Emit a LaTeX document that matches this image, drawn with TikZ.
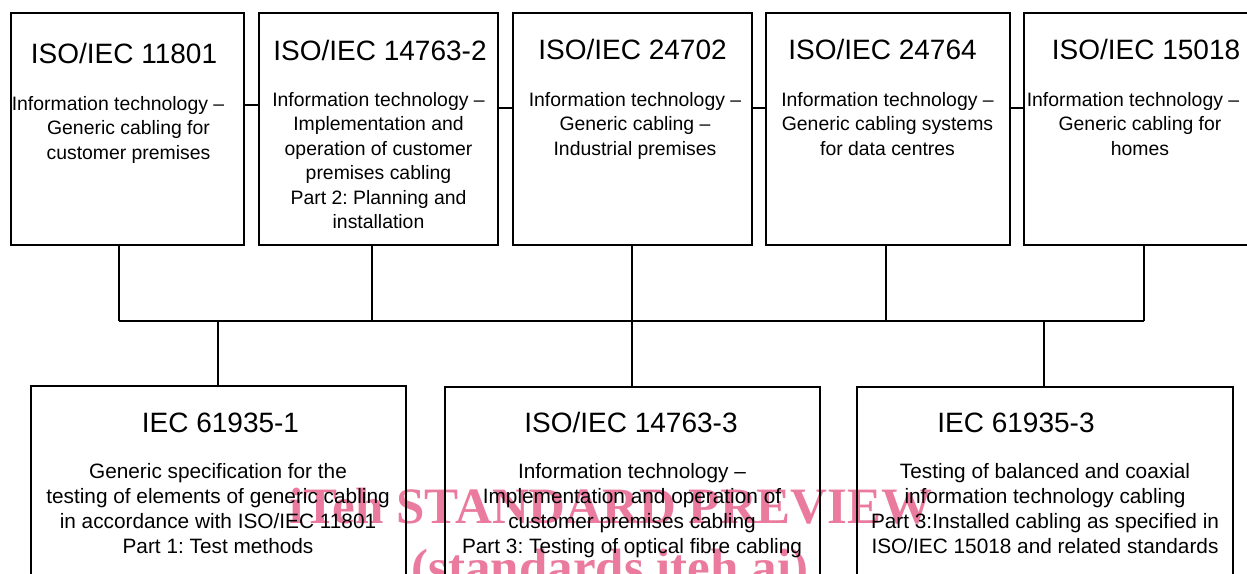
\documentclass[tikz,border=0pt]{standalone}
\usepackage{fontspec}
\setmainfont{Liberation Sans}
\newfontfamily\wmfont{Liberation Serif}
\definecolor{wmpink}{RGB}{234,122,158}
\frenchspacing
\begin{document}
\begin{tikzpicture}[x=0.5pt,y=-0.5pt,
  box/.style={draw,rectangle,line width=1pt,inner sep=0pt,outer sep=0pt,anchor=north west},
  topbox/.style={box,minimum height=116pt},
  botbox/.style={box,minimum height=127pt},
  ttl/.style={inner sep=0pt,anchor=base,font=\fontsize{14pt}{16pt}\selectfont},
  bodyt/.style={inner sep=0pt,anchor=north,align=center,font=\fontsize{9.7pt}{12.25pt}\selectfont\frenchspacing},
  bodyb/.style={inner sep=0pt,anchor=north,align=center,font=\fontsize{10.4pt}{12.5pt}\selectfont\frenchspacing},
  wire/.style={line width=0.9pt},
  wm/.style={inner sep=0pt,anchor=base,text=wmpink,font=\wmfont\bfseries\fontsize{25.5pt}{30pt}\selectfont}]
\useasboundingbox (0,0) rectangle (1247,573);
\clip (0,0) rectangle (1247,573);

% watermark
\node[wm] (w1) at (611,523) {iTeh STANDARD PREVIEW};
\node[wm] (w2) at (610,584) {(standards.iteh.ai)};

% top boxes
\node[topbox,minimum width=116.5pt] (b1) at (11,13) {};
\node[topbox,minimum width=119.5pt] (b2) at (259,13) {};
\node[topbox,minimum width=119.5pt] (b3) at (513,13) {};
\node[topbox,minimum width=122pt] (b4) at (766,13) {};
\node[topbox,minimum width=122pt] (b5) at (1024,13) {};

% bottom boxes
\node[botbox,minimum width=187.5pt] (d1) at (31,386) {};
\node[botbox,minimum width=187.5pt] (d2) at (445,387) {};
\node[botbox,minimum width=188pt] (d3) at (857,387) {};

% top texts
\node[ttl] (t1) at (124,63) {ISO/IEC 11801};
\node[bodyt] (s1) at (128.5,96) {Information technology –\kern10.5pt\\Generic cabling for\\customer premises};
\node[ttl] (t2) at (380,60) {ISO/IEC 14763-2};
\node[bodyt] (s2) at (378.5,92) {Information technology –\\Implementation and\\operation of customer\\premises cabling\\Part 2: Planning and\\installation};
\node[ttl] (t3) at (632.5,59) {ISO/IEC 24702};
\node[bodyt] (s3) at (635,92) {Information technology –\\Generic cabling –\\Industrial premises};
\node[ttl] (t4) at (882.5,59) {ISO/IEC 24764};
\node[bodyt] (s4) at (887.5,92) {Information technology –\\Generic cabling systems\\for data centres};
\node[ttl] (t5) at (1146,59) {ISO/IEC 15018};
\node[bodyt] (s5) at (1140,92) {Information technology –\kern7pt\\Generic cabling for\\homes};

% bottom texts
\node[ttl] (u1) at (220.5,432) {IEC 61935-1};
\node[bodyb] (v1) at (218,463) {Generic specification for the\\testing of elements of generic cabling\\in accordance with ISO/IEC 11801\\Part 1: Test methods};
\node[ttl] (u2) at (631,432) {ISO/IEC 14763-3};
\node[bodyb] (v2) at (632,463) {Information technology –\\Implementation and operation of\\customer premises cabling\\Part 3: Testing of optical fibre cabling};
\node[ttl] (u3) at (1016,432) {IEC 61935-3};
\node[bodyb] (v3) at (1045,463) {Testing of balanced and coaxial\\information technology cabling\\Part 3:Installed cabling as specified in\\ISO/IEC 15018 and related standards};

% junctions
\coordinate (j1) at (119,321);
\coordinate (j2) at (372,321);
\coordinate (j3) at (632,321);
\coordinate (j4) at (886,321);
\coordinate (j5) at (1144,321);
\coordinate (k1) at (218,321);
\coordinate (k3) at (1044,321);
\coordinate (h1) at (0,105);
\coordinate (h2) at (0,108);

% connectors
\draw[wire] (b1.south -| j1) -- (j1);
\draw[wire] (b2.south -| j2) -- (j2);
\draw[wire] (b3.south -| j3) -- (d2.north -| j3);
\draw[wire] (b4.south -| j4) -- (j4);
\draw[wire] (b5.south -| j5) -- (j5);
\draw[wire] (j1) -- (j5);
\draw[wire] (k1) -- (d1.north -| k1);
\draw[wire] (k3) -- (d3.north -| k3);

\draw[wire] (b1.east |- h1) -- (b2.west |- h1);
\draw[wire] (b2.east |- h2) -- (b3.west |- h2);
\draw[wire] (b3.east |- h2) -- (b4.west |- h2);
\draw[wire] (b4.east |- h2) -- (b5.west |- h2);
\end{tikzpicture}
\end{document}
